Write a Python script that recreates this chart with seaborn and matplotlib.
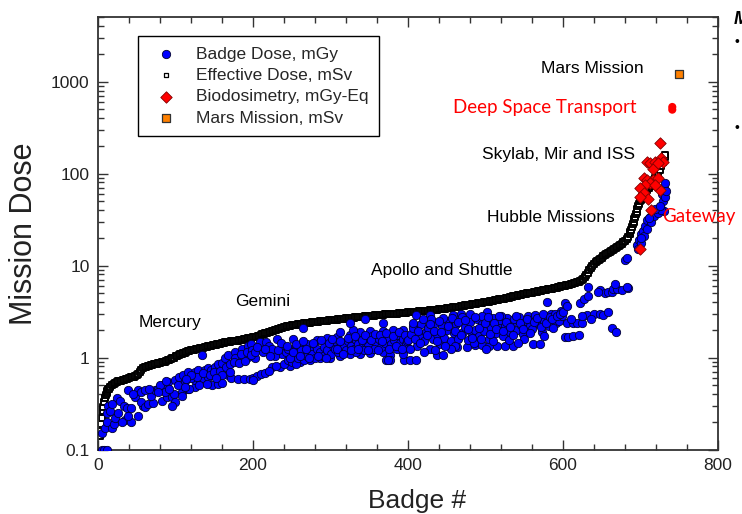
import matplotlib
matplotlib.use("Agg")
import matplotlib.pyplot as plt
import seaborn as sns
from matplotlib.ticker import MultipleLocator, LogLocator, NullFormatter

# ---------------- data ----------------
eff_badge = ([2, 3, 4, 5, 6, 7, 8, 9, 10, 11, 12, 13, 14, 16, 18]
             + list(range(20, 626, 2)) + list(range(626, 685, 2))
             + [686, 687, 688, 689, 690, 691, 692, 693, 694, 695, 696, 697, 698, 699, 700,
                701, 702, 703, 704, 705, 707, 709, 711, 713, 715, 717, 719, 721, 723, 725,
                727, 729, 731, 732])
eff_dose = [0.14, 0.16, 0.19, 0.22, 0.26, 0.29, 0.33, 0.36, 0.39, 0.41, 0.43, 0.45, 0.46, 0.48, 0.5,
            0.52, 0.53, 0.54, 0.55, 0.555, 0.56, 0.57, 0.575, 0.58, 0.59,
            0.60, 0.61, 0.615, 0.62, 0.63, 0.65, 0.67, 0.70, 0.74, 0.76,
            0.78, 0.79, 0.80, 0.81, 0.82, 0.83, 0.84, 0.85, 0.855, 0.865,
            0.875, 0.885, 0.89, 0.90, 0.91, 0.93, 0.95, 0.97, 0.99, 1.0,
            1.03, 1.05, 1.06, 1.08, 1.09, 1.11, 1.13, 1.15, 1.17, 1.19,
            1.20, 1.21, 1.22, 1.23, 1.24, 1.25, 1.26, 1.27, 1.28, 1.30,
            1.31, 1.32, 1.33, 1.35, 1.36, 1.37, 1.38, 1.40, 1.41, 1.42,
            1.43, 1.44, 1.46, 1.47, 1.48, 1.49, 1.50, 1.51, 1.52, 1.53,
            1.53, 1.54, 1.55, 1.57, 1.58, 1.59, 1.60, 1.61, 1.62, 1.64,
            1.66, 1.68, 1.69, 1.71, 1.73, 1.76, 1.78, 1.81, 1.83, 1.85,
            1.88, 1.90, 1.93, 1.95, 1.98, 2.0, 2.03, 2.06, 2.09, 2.11,
            2.13, 2.15, 2.18, 2.20, 2.22, 2.24, 2.26, 2.27, 2.28, 2.30,
            2.31, 2.32, 2.33, 2.35, 2.36, 2.37, 2.38, 2.40, 2.41, 2.42,
            2.43, 2.44, 2.45, 2.47, 2.48, 2.49, 2.50, 2.51, 2.52, 2.53,
            2.55, 2.56, 2.57, 2.58, 2.59, 2.61, 2.62, 2.63, 2.64, 2.65,
            2.67, 2.68, 2.69, 2.70, 2.71, 2.72, 2.73, 2.74, 2.75, 2.76,
            2.78, 2.79, 2.80, 2.81, 2.82, 2.83, 2.84, 2.85, 2.86, 2.87,
            2.88, 2.89, 2.90, 2.91, 2.92, 2.94, 2.95, 2.96, 2.97, 2.98,
            2.98, 2.99, 3.0, 3.01, 3.02, 3.03, 3.04, 3.05, 3.06, 3.08,
            3.09, 3.10, 3.11, 3.12, 3.14, 3.15, 3.16, 3.17, 3.18, 3.20,
            3.21, 3.22, 3.23, 3.24, 3.26, 3.27, 3.28, 3.29, 3.30, 3.32,
            3.34, 3.35, 3.37, 3.38, 3.40, 3.42, 3.44, 3.46, 3.48, 3.50,
            3.52, 3.54, 3.56, 3.58, 3.60, 3.63, 3.65, 3.68, 3.70, 3.73,
            3.75, 3.78, 3.80, 3.83, 3.85, 3.88, 3.90, 3.93, 3.95, 3.98,
            4.0, 4.03, 4.06, 4.09, 4.12, 4.15, 4.18, 4.21, 4.24, 4.28,
            4.31, 4.35, 4.38, 4.42, 4.45, 4.49, 4.53, 4.57, 4.61, 4.65,
            4.69, 4.73, 4.77, 4.81, 4.85, 4.89, 4.93, 4.97, 5.01, 5.05,
            5.09, 5.13, 5.17, 5.21, 5.25, 5.29, 5.33, 5.37, 5.41, 5.45,
            5.49, 5.53, 5.57, 5.62, 5.67, 5.72, 5.77, 5.82, 5.87, 5.92,
            5.97, 6.03, 6.09, 6.15, 6.21, 6.27, 6.34, 6.41, 6.48, 6.56,
            6.64, 6.75, 6.88,
            7.1, 7.5, 7.9, 8.4, 9.0, 9.5, 10.0, 10.5, 10.8, 11.1,
            11.5, 11.8, 12.2, 12.6, 13.0, 13.4, 13.8, 14.1, 14.5, 14.8,
            15.1, 15.5, 15.8, 16.3, 16.8, 17.3, 17.9, 18.5, 19.3, 20.3,
            22, 23, 24.5, 26, 28, 30, 32, 34, 36, 38,
            41, 44, 47, 50, 52, 53, 55, 56, 58, 60,
            63, 66, 70, 74, 80, 85, 90, 95, 100, 110,
            120, 135, 150, 160]

badge_x = [
    # 0-60
    5, 8, 11, 5, 9, 11, 11, 13, 18, 20, 22, 26, 24, 28, 33, 35, 31, 37, 39, 43,
    48, 52, 56, 61, 43, 39, 52, 15, 18, 45, 58, 55,
    # 60-200
    61, 65, 71, 82, 89, 95, 98, 108, 116, 125, 69, 73, 77, 84, 90, 99, 104, 110, 116, 125,
    129, 138, 142, 146, 151, 155, 160, 164, 134, 168, 177, 186, 194, 198, 177, 186, 194, 125, 134, 142,
    147, 155, 160, 168, 172, 181, 189, 196, 99, 95, 108,
    66, 80, 86, 92, 103, 112, 120, 128, 136, 145, 150, 158, 165, 170, 175, 182, 190, 185, 192, 199,
    130, 118, 112, 140, 120, 113, 88, 78, 170, 160, 152, 200, 202,
    # 200-400
    198, 203, 209, 213, 217, 221, 231, 239, 237, 243, 252, 265, 205, 210, 215, 200,
    235, 248, 261, 274, 286, 299, 312, 325, 338, 351, 368, 386, 399,
    261, 283, 295, 308, 325, 338, 351, 368, 381, 394,
    312, 329, 368, 345, 325, 377, 377, 395, 371, 374, 403, 394,
    240, 245, 250, 255, 258, 262, 266, 270, 272, 276, 280, 282, 286, 290, 292, 296, 300, 303, 306, 310,
    314, 318, 320, 323, 327, 330, 333, 336, 340, 342, 346, 349, 353, 356, 359, 362, 365, 370, 374, 378,
    382, 386, 390, 393, 397, 356, 343, 333, 228, 225, 245, 255, 262, 270, 225, 230, 220,
    205, 215, 222, 232, 236, 244, 248, 252, 256, 260, 264, 268, 272, 278, 284, 288, 294, 298, 302, 308,
    312, 316, 322, 326, 332, 335, 340, 344, 348, 352, 358, 361, 364, 367, 372, 376, 380, 384, 388, 392,
    396, 399,
    # 400-600
    410, 437, 445, 463, 476, 486, 495, 505, 515, 525, 535, 561, 570,
    407, 410, 428, 458, 468, 480, 502, 579,
    400, 404, 407, 411, 414, 417, 420, 423, 426, 429, 432, 435, 438, 441, 444, 447, 450, 453, 456, 459,
    462, 465, 468, 471, 474, 477, 480, 483, 486, 489, 492, 495, 498, 501, 504, 507, 510, 513, 516, 519,
    522, 525, 528, 531, 534, 537, 540, 543, 546, 549, 552, 555, 558, 561, 564, 567, 570, 573, 576, 579,
    582, 585, 588, 591, 594, 597, 430, 445, 470, 495, 520, 460, 485, 510, 530, 550, 575, 420, 435, 455,
    542, 560, 500,
    402, 406, 409, 413, 416, 419, 425, 428, 433, 437, 440, 443, 448, 452, 457, 461, 464, 469, 473, 478,
    482, 487, 491, 494, 499, 503, 506, 511, 514, 518, 523, 527, 532, 536, 539, 544, 548, 553, 557, 562,
    566, 571, 574, 578, 583, 587, 590, 595, 599,
    # 600-690
    586, 592, 596, 600, 605, 613, 618, 624, 631, 640, 648, 652, 658, 603, 605, 622, 627, 632, 648, 654,
    658, 663, 665, 670, 676, 684, 632, 645, 667, 683, 680, 683, 602, 607, 613, 620, 663, 669, 610, 625, 636,
    # Hubble
    695, 698, 700, 703, 706, 709, 712, 716, 720, 724, 727, 730, 728, 730, 732, 729, 700, 705, 708, 714,
    718, 722, 726, 697, 701, 711, 719, 725, 731, 733]
badge_dose = [
    # 0-60
    0.1, 0.1, 0.1, 0.15, 0.17, 0.2, 0.25, 0.3, 0.17, 0.19, 0.22, 0.25, 0.36, 0.34, 0.3, 0.21, 0.2, 0.28, 0.44, 0.28,
    0.37, 0.44, 0.42, 0.44, 0.2, 0.23, 0.23, 0.26, 0.31, 0.4, 0.3, 0.33,
    # 60-200
    0.29, 0.31, 0.32, 0.34, 0.37, 0.37, 0.4, 0.42, 0.46, 0.48, 0.38, 0.44, 0.46, 0.5, 0.54, 0.57, 0.62, 0.64, 0.7, 0.7,
    0.73, 0.73, 0.76, 0.73, 0.79, 0.85, 0.88, 0.98, 1.06, 1.06, 1.15, 1.25, 1.35, 1.42, 0.98, 0.95, 1.02, 0.57, 0.6, 0.62,
    0.5, 0.52, 0.53, 0.64, 0.6, 0.58, 0.58, 0.58, 0.33, 0.3, 0.38,
    0.45, 0.5, 0.42, 0.45, 0.5, 0.55, 0.6, 0.62, 0.68, 0.65, 0.7, 0.72, 0.78, 0.85, 0.9, 0.88, 0.92, 1.1, 1.15, 1.2,
    0.5, 0.45, 0.48, 0.52, 0.65, 0.58, 0.55, 0.42, 0.7, 0.65, 0.6, 0.6, 0.98,
    # 200-400
    1.06, 1.14, 1.47, 1.14, 1.47, 1.35, 1.6, 1.3, 1.1, 1.14, 1.6, 2.1, 0.63, 0.66, 0.68, 0.57,
    0.79, 0.8, 0.89, 0.94, 0.98, 1.0, 1.03, 1.09, 1.1, 1.13, 1.16, 1.24, 1.3,
    1.37, 1.56, 1.63, 1.68, 1.77, 1.89, 1.95, 1.95, 2.0, 2.0,
    1.9, 2.0, 2.35, 2.6, 2.35, 1.06, 0.94, 0.94, 0.93, 0.93, 0.94, 1.1,
    0.85, 0.95, 0.9, 0.85, 1.0, 1.1, 0.95, 1.05, 1.2, 1.1, 1.0, 1.25, 1.15, 1.05, 1.3, 1.2, 1.1, 1.35, 1.25, 1.15,
    1.4, 1.3, 1.2, 1.5, 1.35, 1.25, 1.55, 1.4, 1.3, 1.6, 1.45, 1.35, 1.7, 1.5, 1.4, 1.6, 1.3, 1.45, 1.65, 1.4,
    1.55, 1.75, 1.45, 1.6, 1.4, 1.25, 1.2, 1.15, 1.05, 1.25, 1.25, 1.3, 1.2, 1.4, 0.78, 0.8, 0.72,
    1.3, 1.25, 1.05, 1.2, 1.45, 1.35, 1.0, 1.15, 1.4, 1.05, 1.5, 1.25, 0.98, 1.45, 1.05, 1.55, 0.98, 1.45, 1.6, 1.25,
    1.5, 1.1, 1.65, 1.2, 1.7, 1.25, 1.55, 1.75, 1.2, 1.55, 1.8, 1.2, 1.75, 1.5, 1.85, 1.25, 1.7, 1.35, 1.9, 1.25,
    1.75, 1.5,
    # 400-600
    0.94, 1.06, 1.06, 1.3, 1.3, 1.37, 1.37, 1.33, 1.33, 1.35, 1.33, 1.4, 1.4,
    2.2, 2.9, 2.9, 2.9, 3.0, 3.0, 3.1, 4.0,
    1.55, 1.8, 2.1, 1.35, 1.7, 2.3, 1.5, 1.9, 2.1, 1.25, 1.6, 2.4, 1.8, 1.4, 2.2, 1.65, 2.0, 2.5, 1.5, 1.85,
    2.3, 1.6, 2.6, 1.9, 2.15, 1.55, 2.45, 1.8, 2.0, 2.6, 1.7, 2.3, 1.95, 2.5, 1.6, 2.1, 2.7, 1.85, 2.3, 2.55,
    1.7, 2.2, 2.7, 1.9, 2.4, 2.6, 2.0, 2.75, 2.25, 1.8, 2.5, 2.8, 2.2, 2.6, 2.9, 2.35, 2.7, 1.9, 2.5, 2.8,
    2.2, 3.0, 2.6, 2.4, 2.9, 3.2, 2.6, 2.7, 2.75, 2.8, 2.85, 1.35, 1.45, 1.5, 1.55, 1.6, 1.7, 1.15, 1.2, 1.25,
    1.45, 2.05, 1.25,
    1.25, 2.4, 1.6, 1.95, 1.45, 2.6, 1.75, 2.3, 1.95, 1.5, 2.5, 1.9, 1.35, 2.2, 2.7, 1.95, 2.45, 1.75, 2.55, 2.05,
    1.65, 2.75, 2.1, 1.6, 2.35, 2.75, 1.8, 2.4, 2.05, 2.8, 1.95, 2.45, 2.15, 1.75, 2.85, 2.4, 2.05, 2.65, 1.85, 2.45,
    2.7, 2.15, 2.95, 2.35, 2.75, 2.1, 2.95, 2.5, 2.85,
    # 600-690
    2.6, 2.8, 3.0, 3.1, 2.37, 2.4, 2.4, 2.4, 2.9, 3.0, 3.0, 2.9, 3.1, 3.9, 3.6, 3.9, 4.3, 4.7, 5.4, 5.0,
    5.2, 5.1, 5.5, 5.6, 5.4, 5.7, 5.8, 5.2, 6.3, 5.8, 11.5, 12.2, 1.68, 1.68, 1.7, 1.75, 2.1, 1.9, 2.6, 2.8, 2.6,
    # Hubble
    16.7, 19, 22, 24, 27, 31, 34, 38, 40, 42, 41, 39, 60, 69, 78, 50, 17.5, 21, 25, 30,
    35, 37, 40, 15, 20, 33, 41, 44, 55, 65]

bio_badge = [725, 708, 712, 719, 716, 727, 729, 723, 704, 708, 716, 723, 712, 706, 699, 704,
             710, 699, 725, 719, 714, 699]
bio_dose = [215, 134, 130, 134, 113, 146, 134, 130, 89, 86, 86, 89, 78, 75, 69, 61,
            53, 56, 66, 75, 40, 15]

mars_badge = [750]
mars_dose = [1200]
dst_badge = [741, 741]
dst_dose = [530, 495]

legend_labels = ["Badge Dose, mGy", "Effective Dose, mSv", "Biodosimetry, mGy-Eq", "Mars Mission, mSv"]
xtick_values = [0, 200, 400, 600, 800]
ytick_values = [0.1, 1, 10, 100, 1000]
ytick_labels = ["0.1", "1", "10", "100", "1000"]
annotations = [("Mars Mission", 0.798, 0.8815, "black"),
               ("Skylab, Mir and ISS", 0.7435, 0.6814, "black"),
               ("Hubble Missions", 0.730, 0.537, "black"),
               ("Apollo and Shuttle", 0.555, 0.414, "black"),
               ("Gemini", 0.266, 0.342, "black"),
               ("Mercury", 0.116, 0.294, "black")]
red_annotations = [("Deep Space Transport", 0.721, 0.791),
                   ("Gateway", 0.969, 0.5386)]

# ---------------- plot ----------------
sns.set_style("ticks")
plt.rcParams['font.family'] = ['Liberation Sans', 'DejaVu Sans']

fig = plt.figure(figsize=(7.42, 5.14), dpi=100)
ax = fig.add_axes([98 / 742, 1 - 449.5 / 514, 620 / 742, 432.2 / 514])

sns.scatterplot(x=eff_badge, y=eff_dose, marker='s', s=20, color='white', edgecolor='black',
                linewidth=1.4, ax=ax, label=legend_labels[1], zorder=2)
sns.scatterplot(x=badge_x, y=badge_dose, marker='o', s=36, color='#0000ff', edgecolor='#000030',
                linewidth=0.6, ax=ax, label=legend_labels[0], zorder=3)
sns.scatterplot(x=bio_badge, y=bio_dose, marker='D', s=34, color='#ff0000', edgecolor='#800000',
                linewidth=0.6, ax=ax, label=legend_labels[2], zorder=4)
sns.scatterplot(x=mars_badge, y=mars_dose, marker='s', s=36, color='#ff8000', edgecolor='#333333',
                linewidth=0.9, ax=ax, label=legend_labels[3], zorder=4)
sns.scatterplot(x=dst_badge, y=dst_dose, marker='o', s=34, color='#ff0000', edgecolor='none',
                linewidth=0, ax=ax, label='_nolegend_', zorder=4)

ax.set_yscale('log')
ax.set_xlim(0, 800)
ax.set_ylim(0.1, 5000)
ax.set_xticks(xtick_values)
ax.set_xticklabels([str(v) for v in xtick_values])
ax.xaxis.set_minor_locator(MultipleLocator(40))
ax.set_yticks(ytick_values)
ax.set_yticklabels(ytick_labels)
ax.yaxis.set_minor_locator(LogLocator(base=10, subs=[2, 3, 4, 5, 6, 7, 8, 9], numticks=20))
ax.yaxis.set_minor_formatter(NullFormatter())
ax.tick_params(which='both', direction='in', top=True, right=True, color='#333333', width=1.0)
ax.tick_params(which='major', length=7, labelsize=12.5, labelcolor='#222222', pad=6)
ax.tick_params(which='minor', length=4)
for sp in ax.spines.values():
    sp.set_linewidth(1.3)
    sp.set_color('#333333')

ax.set_xlabel("Badge #", fontsize=19, color='#222222', va='center')
ax.xaxis.set_label_coords((417 - 98) / 620, -(501 - 449.5) / 432.2)
ax.set_ylabel("Mission Dose", fontsize=22, color='#222222', va='center')
ax.yaxis.set_label_coords((24 - 98) / 620, 0.5)

for txt, xf, yf, col in annotations:
    ax.text(xf, yf, txt, transform=ax.transAxes, ha='center', va='center', fontsize=12.5, color=col)
for txt, xf, yf in red_annotations:
    ax.text(xf, yf, txt, transform=ax.transAxes, ha='center', va='center', fontsize=13.5,
            color='#ff0000', family=['Lato', 'DejaVu Sans'], clip_on=False)

handles, labels = ax.get_legend_handles_labels()
order = [labels.index(l) for l in legend_labels]
leg = ax.legend([handles[i] for i in order], [labels[i] for i in order], loc='upper left',
                bbox_to_anchor=((138.3 - 98) / 620, (449.5 - 36) / 432.2), borderaxespad=0,
                frameon=True, fancybox=False, framealpha=1, edgecolor='black', fontsize=12.5,
                borderpad=0.6, handletextpad=0.75, labelspacing=0.36, handlelength=2.0)
leg.get_frame().set_linewidth(1.0)
leg.legend_handles[1].set_sizes([12])
leg.legend_handles[1].set_linewidths([0.9])

# slide fragments at the right edge
fig.text(734 / 742, 1 - 20 / 514, "M", fontsize=13, fontweight='bold', fontstyle='italic',
         ha='left', va='center', color='black')
fig.text(737 / 742, 1 - 42 / 514, "•", fontsize=10, ha='center', va='center', color='black')
fig.text(737 / 742, 1 - 128 / 514, "•", fontsize=10, ha='center', va='center', color='black')

fig.savefig("out.png", dpi=100)
